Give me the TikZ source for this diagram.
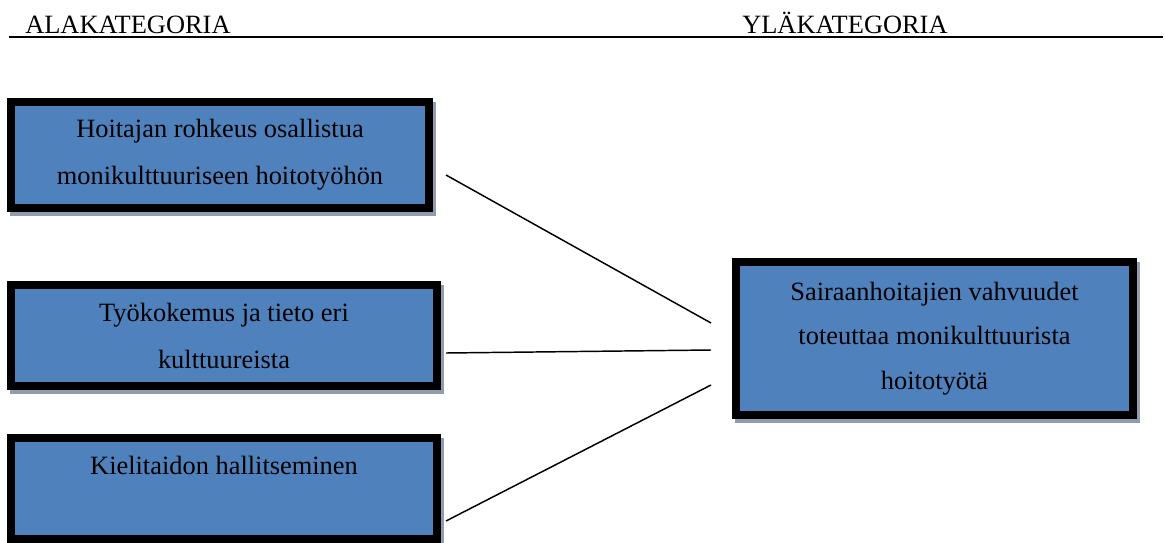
\documentclass[tikz,border=0pt]{standalone}
\usepackage{fontspec}
\setmainfont{Liberation Serif}
\usetikzlibrary{shadows}
\definecolor{boxblue}{RGB}{79,129,189}
\definecolor{shadowgray}{RGB}{146,156,172}
\begin{document}
\begin{tikzpicture}[x=0.75pt,y=-0.75pt,
  catbox/.style={draw=black, fill=boxblue, line width=6pt, rectangle,
    inner sep=0pt, align=center, text=black,
    font=\fontsize{19.8}{35.25}\selectfont,
    general shadow={shadow xshift=2.25pt, shadow yshift=-3pt,
      fill=shadowgray, draw=shadowgray, line width=6pt}},
  header/.style={anchor=base west, inner sep=0pt, font=\fontsize{19.8}{24}\selectfont},
  link/.style={draw=black, line width=1.1pt}]
\useasboundingbox (0,0) rectangle (1165,543);

% column headers and the rule beneath them
\node[header] (alak) at (25,33) {ALAKATEGORIA};
\node[header] (ylak) at (742,33) {YLÄKATEGORIA};
\coordinate (ruleL) at (9,37);
\coordinate (ruleR) at (1163,37);
\draw[line width=2pt] (ruleL) -- (ruleR);

% sub-categories
\node[catbox, minimum width=418*0.75pt, minimum height=106*0.75pt] (sub1) at (220,155)
  {Hoitajan rohkeus osallistua\\monikulttuuriseen hoitotyöhön};
\node[catbox, minimum width=426*0.75pt, minimum height=101*0.75pt] (sub2) at (224,335.5)
  {Työkokemus ja tieto eri\\kulttuureista};
\node[catbox, minimum width=426*0.75pt, minimum height=101*0.75pt] (sub3) at (224,488.5)
  {Kielitaidon hallitseminen\\\mbox{}};

% upper category
\node[catbox, font=\fontsize{19.8}{33.5}\selectfont,
  minimum width=397*0.75pt, minimum height=153*0.75pt] (main) at (934.5,338.5)
  {Sairaanhoitajien vahvuudet\\toteuttaa monikulttuurista\\hoitotyötä};

% connectors between the categories
\coordinate (a1) at (446,175);
\coordinate (b1) at (711,323);
\coordinate (a2) at (446,353);
\coordinate (b2) at (711,350);
\coordinate (a3) at (446,521);
\coordinate (b3) at (711,385);
\draw[link] (a1) -- (b1);
\draw[link] (a2) -- (b2);
\draw[link] (a3) -- (b3);
\end{tikzpicture}
\end{document}
